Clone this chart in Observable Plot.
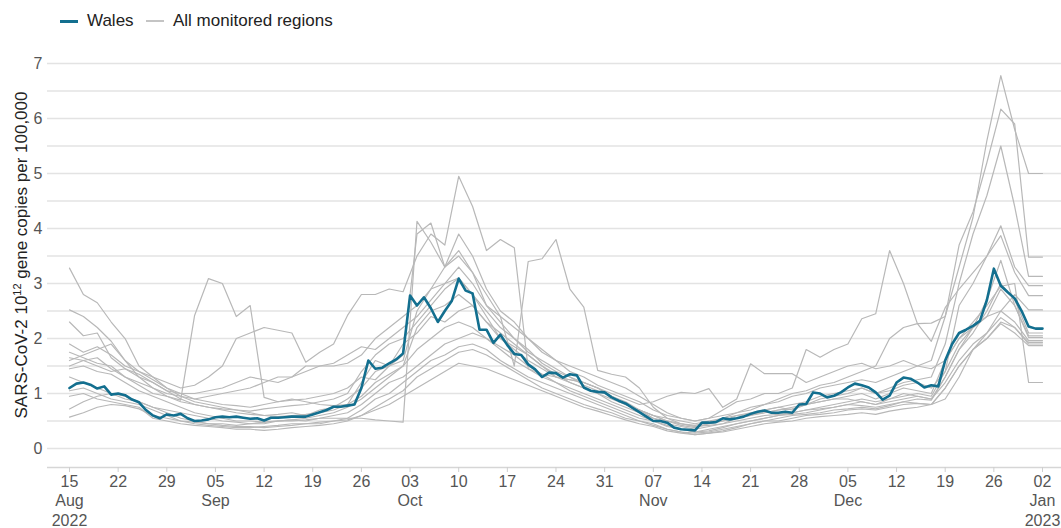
<!DOCTYPE html>
<html><head><meta charset="utf-8">
<script src="https://cdn.jsdelivr.net/npm/d3@7"></script>
<script src="https://cdn.jsdelivr.net/npm/@observablehq/plot@0.6"></script>
<style>
body{margin:0;background:#fff;font-family:"Liberation Sans",Arial,sans-serif;}
#legend{position:relative;height:40px;font-size:17px;color:#222;}
#legend .sw{position:absolute;top:20px;height:3px;width:18px;}
#legend .lb{position:absolute;top:11px;line-height:20px;}
#chart svg{display:block;}
</style></head><body>
<div id="legend">
  <span class="sw" style="left:60px;background:#136f8f"></span><span class="lb" style="left:87px">Wales</span>
  <span class="sw" style="left:146px;background:#c4c4c4;height:2px"></span><span class="lb" style="left:173px">All monitored regions</span>
</div>
<div id="chart"></div>
<script>
// ---- data ----
const startDate = "2022-08-15";          // first daily observation
const regionStepDays = 2;                 // regions sampled every 2 days
const yTickValues = [0,1,2,3,4,5,6,7];
const gridValues = [0,0.5,1,1.5,2,2.5,3,3.5,4,4.5,5,5.5,6,6.5,7];
const xTickLabels = ["15\nAug\n2022","22","29","05\nSep","12","19","26","03\nOct","10","17","24","31","07\nNov","14","21","28","05\nDec","12","19","26","02\nJan\n2023"];

const walesValues = [
1.1,1.18,1.2,1.16,1.09,1.13,0.98,1.0,0.97,0.89,
0.84,0.7,0.6,0.55,0.62,0.6,0.63,0.55,0.5,0.51,
0.53,0.57,0.58,0.57,0.58,0.56,0.54,0.55,0.51,0.56,
0.56,0.57,0.58,0.58,0.58,0.62,0.66,0.7,0.76,0.76,
0.78,0.8,1.1,1.6,1.45,1.47,1.55,1.62,1.73,2.78,
2.6,2.75,2.55,2.3,2.5,2.68,3.09,2.87,2.82,2.16,
2.16,1.92,2.07,1.88,1.72,1.7,1.53,1.44,1.3,1.38,
1.37,1.29,1.35,1.33,1.11,1.05,1.03,1.02,0.93,0.87,
0.82,0.74,0.66,0.58,0.5,0.5,0.47,0.38,0.35,0.34,
0.33,0.47,0.47,0.48,0.55,0.53,0.55,0.58,0.63,0.67,
0.69,0.65,0.65,0.67,0.65,0.8,0.81,1.02,1.0,0.93,
0.96,1.02,1.11,1.18,1.15,1.11,1.02,0.89,0.96,1.2,
1.29,1.27,1.2,1.11,1.15,1.13,1.6,1.9,2.1,2.16,
2.23,2.32,2.7,3.27,2.96,2.84,2.73,2.5,2.22,2.18,
2.18];

const region01 = [3.28,2.8,2.65,2.3,2.0,1.5,1.3,1.1,0.95,0.85, 0.8,0.75,0.7,0.65,0.6,0.62,0.65,0.6,0.7,0.75, 0.9,1.1,1.4,1.5,1.7,3.9,4.1,3.3,3.6,3.2, 2.6,2.3,2.0,1.8,1.55,1.4,1.3,1.2,1.1,0.95, 0.85,0.7,0.6,0.5,0.45,0.4,0.45,0.5,0.6,0.65, 0.7,0.75,0.8,0.85,0.95,1.0,1.05,1.1,1.0,1.05, 1.15,1.2,1.1,1.4,2.6,3.0,3.5,4.05,3.3,2.96, 2.96];
const region02 = [1.5,1.6,1.65,1.45,1.3,1.15,1.0,0.95,0.88,2.42, 3.09,3.0,2.4,2.6,0.93,0.85,0.9,0.85,0.8,0.78, 0.8,0.95,1.2,1.35,1.5,2.2,2.5,2.6,2.8,2.6, 2.3,2.0,1.85,1.7,1.5,1.3,1.2,1.1,1.0,0.85, 0.75,0.65,0.55,0.45,0.4,0.35,0.4,0.45,0.55,0.6, 0.65,0.7,0.75,0.8,0.85,0.9,0.95,1.0,0.9,1.0, 1.1,1.05,1.0,1.6,2.0,2.2,2.4,2.9,2.6,2.05, 2.05];
const region03 = [2.52,2.4,2.2,1.95,1.6,1.4,1.3,1.2,1.1,1.15, 1.3,1.5,2.0,2.1,2.2,2.15,2.1,1.57,1.75,1.9, 2.42,2.8,2.8,2.9,2.85,3.5,3.9,3.7,4.95,4.4, 3.6,3.8,3.65,1.45,1.35,1.3,1.25,1.2,1.1,0.95, 0.8,0.7,0.6,0.5,0.45,0.42,0.48,0.55,0.6,0.62, 0.65,0.7,0.72,0.8,0.85,0.9,0.9,0.85,0.8,0.9, 1.0,0.95,0.9,1.3,1.8,2.2,2.7,3.42,2.6,2.02, 2.02];
const region04 = [0.72,0.85,0.95,1.0,0.9,0.85,0.75,0.7,0.65,0.6, 0.55,0.5,0.48,0.45,0.45,0.5,0.52,0.5,0.55,0.55, 0.55,0.55,0.52,0.5,0.48,4.13,3.75,3.3,3.5,3.2, 2.8,2.4,1.5,3.4,3.45,3.8,2.9,2.57,1.42,1.35, 1.3,1.1,0.75,0.55,0.45,0.4,0.42,0.45,0.5,0.55, 0.6,0.62,0.65,0.7,0.72,0.75,0.8,0.78,0.75,0.8, 0.85,0.82,0.8,0.9,1.3,1.8,2.1,2.5,2.3,1.96, 1.96];
const region05 = [1.75,1.65,1.55,1.5,1.3,1.2,1.1,1.0,0.95,0.9, 0.95,1.0,1.05,1.1,1.2,1.3,1.3,1.4,1.5,1.5, 1.55,1.7,2.0,2.2,2.4,2.6,2.9,3.0,3.1,2.8, 2.5,2.2,2.0,1.75,1.6,1.45,1.3,1.15,1.05,0.95, 0.8,0.7,0.6,0.55,0.5,0.45,0.5,0.55,0.65,0.7, 0.8,0.85,0.95,1.0,1.1,1.15,1.2,1.25,1.2,1.3, 1.4,1.5,1.6,2.4,3.3,4.2,5.6,6.78,5.8,5.0, 5.0];
const region06 = [1.9,1.75,1.85,1.7,1.5,1.4,1.25,1.1,1.0,1.0, 1.05,1.1,1.2,1.3,1.25,1.2,1.3,1.5,1.5,1.55, 1.7,1.85,1.8,2.0,2.2,2.4,2.7,3.0,3.3,3.0, 2.6,2.4,2.2,2.0,1.75,1.6,1.4,1.3,1.15,1.05, 0.95,0.85,0.7,0.6,0.55,0.5,0.55,0.6,0.65,0.75, 0.8,0.9,1.0,1.05,1.15,1.2,1.3,1.4,1.5,2.0, 2.2,2.27,2.28,2.4,3.7,4.3,5.2,6.17,5.9,3.48, 3.48];
const region07 = [2.3,2.05,2.1,1.65,1.45,1.3,1.2,1.05,0.9,0.8, 0.75,0.7,0.65,0.62,0.6,0.58,0.6,0.62,0.65,0.7, 0.8,1.2,1.6,1.5,1.9,2.1,2.4,2.3,2.5,2.6, 2.3,2.1,1.9,1.7,1.5,1.35,1.2,1.1,1.0,0.9, 0.8,0.7,0.55,0.5,0.42,0.38,0.45,0.5,0.55,0.6, 0.7,0.75,0.7,0.8,0.9,0.95,1.0,1.1,1.0,1.1, 1.2,1.25,1.3,1.9,3.0,3.9,4.6,5.5,4.4,3.13, 3.13];
const region08 = [1.65,1.6,1.5,1.4,1.45,1.35,1.2,1.05,1.0,0.9, 0.85,0.8,0.78,0.75,0.8,0.85,0.88,0.9,0.95,1.0, 1.1,1.3,1.25,1.5,1.6,2.5,2.9,3.3,3.9,3.5, 2.9,2.5,2.3,2.0,1.8,1.6,1.5,1.4,1.3,1.2, 1.1,0.95,0.8,0.65,0.55,0.5,0.55,0.7,0.85,0.9, 1.0,1.0,1.1,1.8,1.66,1.8,1.9,2.36,2.45,3.6, 3.0,2.27,1.95,2.56,2.9,3.2,3.5,3.87,3.2,2.78, 2.78];
const region09 = [1.6,1.7,1.8,1.9,1.6,1.3,1.1,0.95,0.85,0.8, 0.75,0.72,0.7,0.68,0.72,0.75,0.78,0.8,0.85,0.9, 1.0,1.4,1.7,1.9,2.0,2.3,2.6,2.9,3.1,2.8, 2.4,2.0,1.8,1.6,1.45,1.3,1.25,1.2,1.1,1.0, 0.9,0.8,0.85,0.95,1.02,1.0,1.09,0.75,0.9,1.54, 1.36,1.36,1.36,1.2,1.3,1.4,1.5,1.55,1.45,1.5, 1.6,1.5,1.45,1.6,2.0,2.3,2.6,2.95,3.0,1.2, 1.2];
const region10 = [1.45,1.5,1.4,1.35,1.2,1.05,0.95,0.85,0.75,0.65, 0.6,0.55,0.5,0.5,0.48,0.5,0.52,0.55,0.6,0.65, 0.75,0.9,1.1,1.3,1.5,1.8,2.0,2.2,2.3,2.2, 2.0,1.8,1.6,1.45,1.3,1.2,1.1,1.0,0.9,0.8, 0.7,0.6,0.5,0.4,0.35,0.3,0.35,0.4,0.45,0.5, 0.55,0.6,0.62,0.65,0.7,0.75,0.8,0.85,0.8,0.85, 0.9,0.95,0.9,1.2,1.6,1.9,2.1,2.38,2.2,1.9, 1.9];
const region11 = [1.3,1.2,1.1,1.0,0.95,0.85,0.75,0.65,0.55,0.5, 0.45,0.42,0.4,0.4,0.38,0.4,0.42,0.45,0.45,0.5, 0.55,0.7,0.9,1.0,1.2,1.4,1.6,1.7,1.85,1.9, 1.8,1.6,1.45,1.3,1.2,1.1,1.0,0.9,0.8,0.7, 0.6,0.5,0.45,0.35,0.3,0.28,0.3,0.35,0.4,0.45, 0.5,0.5,0.55,0.6,0.62,0.65,0.7,0.72,0.7,0.75, 0.8,0.82,0.8,1.1,1.5,1.8,2.0,2.27,2.1,1.87, 1.87];
const region12 = [1.05,1.1,1.0,0.9,0.85,0.8,0.7,0.6,0.5,0.48, 0.45,0.45,0.42,0.45,0.48,0.5,0.5,0.52,0.55,0.6, 0.65,0.8,1.0,1.2,1.3,1.5,1.7,1.9,2.0,2.1, 2.0,1.85,1.7,1.5,1.35,1.2,1.05,0.95,0.85,0.75, 0.65,0.55,0.5,0.42,0.35,0.3,0.32,0.38,0.45,0.5, 0.55,0.6,0.65,0.7,0.75,0.8,0.85,0.9,0.85,0.9, 0.95,1.0,0.95,1.4,1.9,2.2,2.4,2.5,2.8,2.52, 2.52];
const region13 = [0.95,1.0,0.9,0.85,0.8,0.75,0.55,0.5,0.45,0.42, 0.4,0.38,0.35,0.35,0.33,0.35,0.38,0.4,0.42,0.45, 0.5,0.6,0.75,0.9,1.05,1.3,1.45,1.6,1.75,1.8, 1.7,1.55,1.4,1.25,1.1,1.0,0.9,0.8,0.72,0.65, 0.55,0.5,0.42,0.35,0.3,0.25,0.28,0.32,0.38,0.45, 0.5,0.55,0.6,0.62,0.65,0.7,0.72,0.75,0.72,0.78, 0.85,0.9,0.88,1.3,1.8,2.1,2.5,3.0,2.7,2.1, 2.1];
const region14 = [0.57,0.65,0.75,0.8,0.78,0.72,0.6,0.55,0.5,0.45, 0.42,0.4,0.38,0.38,0.4,0.42,0.45,0.45,0.48,0.5, 0.52,0.6,0.7,0.8,0.95,1.1,1.25,1.4,1.55,1.5, 1.45,1.35,1.25,1.15,1.05,0.95,0.85,0.75,0.68,0.6, 0.52,0.45,0.4,0.32,0.28,0.25,0.28,0.3,0.35,0.4, 0.45,0.48,0.5,0.55,0.58,0.6,0.62,0.65,0.62,0.68, 0.72,0.75,0.8,1.1,1.5,1.8,2.0,2.3,2.2,1.93, 1.93];

// ---- build tables ----
const DAY = 864e5;
const t0 = new Date(startDate + "T00:00:00Z").getTime();
const walesData = walesValues.map((v, i) => ({date: new Date(t0 + i * DAY), value: v}));
const regions = [region01,region02,region03,region04,region05,region06,region07,region08,region09,region10,region11,region12,region13,region14];
const greyData = regions.flatMap((arr, r) => arr.map((v, i) => ({region: r, date: new Date(t0 + i * regionStepDays * DAY), value: v})));
const xTicks = xTickLabels.map((_, i) => new Date(t0 + i * 7 * DAY));
const yMin = -0.345;

const chart = Plot.plot({
  width: 1061, height: 488,
  marginLeft: 47, marginRight: 0, marginTop: 23, marginBottom: 61,
  style: {fontFamily: "'Liberation Sans', Arial, sans-serif", fontSize: "16px", background: "#fff", color: "#555"},
  x: {type: "utc", domain: [new Date(t0 - 3.165 * DAY), new Date(t0 + 142.734 * DAY)]},
  y: {domain: [yMin, 7]},
  marks: [
    Plot.ruleY(gridValues, {stroke: "#e3e3e3", strokeWidth: 1.3}),
    Plot.ruleY([yMin], {stroke: "#d6d6d6", strokeWidth: 1.3}),
    Plot.axisY({ticks: yTickValues, tickSize: 0, tickPadding: 5, label: null, fontSize: 16, fill: "#555"}),
    Plot.axisX({ticks: xTicks, tickSize: 5, tickPadding: 1, label: null, fontSize: 16, lineHeight: 1.2,
      stroke: "#cfcfcf", fill: "#555", tickFormat: (d, i) => xTickLabels[i]}),
    Plot.lineY(greyData, {x: "date", y: "value", z: "region", stroke: "#b8b8b8", strokeWidth: 1.2}),
    Plot.lineY(walesData, {x: "date", y: "value", stroke: "#136f8f", strokeWidth: 2.6})
  ]
});
document.getElementById("chart").appendChild(chart);

// y-axis title with superscript
const svg = d3.select(chart);
const yc = (23 + 427) / 2 - 10;
const title = svg.append("text")
  .attr("transform", `translate(27,${yc}) rotate(-90)`)
  .attr("text-anchor", "middle")
  .attr("fill", "#222")
  .style("font-size", "17px")
  .style("font-family", "'Liberation Sans', Arial, sans-serif");
title.append("tspan").text("SARS-CoV-2 10");
title.append("tspan").attr("baseline-shift", "super").attr("font-size", "11px").text("12");
title.append("tspan").text(" gene copies per 100,000");
</script>
</body></html>
